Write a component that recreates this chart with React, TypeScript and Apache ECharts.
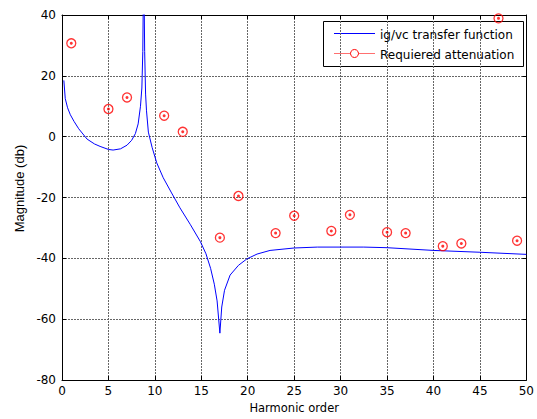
import React, { useEffect, useRef } from "react";
import * as echarts from "echarts";

// Transfer function ig/vc (harmonic order, magnitude in dB)
const tfOrder = [
  0.2, 0.35, 0.6, 0.9, 1.3, 1.8, 2.7, 3.5, 4.1, 5.0, 5.5, 6.3, 7.0, 7.5, 7.9, 8.2,
  8.45, 8.6, 8.7, 8.8, 8.9, 9.0, 9.1, 9.3, 9.7, 10.2, 10.9, 11.8, 12.7, 13.8, 14.9,
  15.5, 16.0, 16.4, 16.7, 17.0, 17.2, 17.5, 18.1, 19.0, 19.9, 21.0, 22.4, 25, 27.5,
  30, 32.5, 35, 40, 45, 50,
];
const tfMagnitude = [
  18.5, 12.5, 9.5, 7.2, 5.0, 2.6, -0.8, -2.4, -3.2, -4.2, -4.4, -4.0, -2.8, -1.2, 1.0, 4.2,
  10, 16, 28, 60, 28, 14, 8.5, 1.5, -3.5, -8.6, -13.5, -18.5, -23.4, -28.8, -34.5,
  -38.5, -43.3, -48.5, -54, -64.6, -56, -50.5, -45.5, -42.3, -40.2, -38.6, -37.4, -36.6, -36.3,
  -36.3, -36.3, -36.5, -37.4, -38.0, -38.7,
];

// Required attenuation at harmonic orders
const harmonics = [1, 5, 7, 11, 13, 17, 19, 23, 25, 29, 31, 35, 37, 41, 43, 47, 49];
const attenuation = [
  30.7, 9.1, 12.9, 6.9, 1.6, -33.2, -19.5, -31.7, -26, -31, -25.7, -31.4, -31.7, -36, -35.1, 38.9, -34.2,
];

const xTicks = { min: 0, max: 50, interval: 5 };
const yTicks = { min: -80, max: 40, interval: 20 };

const legendNames = ["ig/vc transfer function", "Requiered attenuation"];

const FONT = '"DejaVu Sans", sans-serif';

export default function App() {
  const ref = useRef<HTMLDivElement>(null);
  useEffect(() => {
    if (!ref.current) return;
    const chart = echarts.init(ref.current, undefined, { renderer: "svg" });
    const splitLine = { show: true, lineStyle: { color: "#666", type: [2, 1] as any, width: 1 } };
    const axisLine = { show: true, onZero: false, lineStyle: { color: "#000", width: 1 } };
    const axisTick = { show: true, inside: true, length: 4, lineStyle: { color: "#000" } };
    const attData = harmonics.map((x, i) => [x, attenuation[i]]);
    chart.setOption({
      animation: false,
      backgroundColor: "#fff",
      grid: { left: 62, right: 10, top: 15, bottom: 38, containLabel: false },
      xAxis: [
        {
          type: "value",
          position: "bottom",
          ...xTicks,
          axisLine,
          axisTick,
          splitLine,
          axisLabel: { color: "#000", fontFamily: FONT, fontSize: 12, margin: 5 },
          name: "Harmonic order",
          nameLocation: "middle",
          nameGap: 22,
          nameTextStyle: { color: "#000", fontFamily: FONT, fontSize: 11.5 },
        },
        {
          type: "value",
          position: "top",
          ...xTicks,
          axisLine,
          axisTick,
          splitLine: { show: false },
          axisLabel: { show: false },
        },
      ],
      yAxis: [
        {
          type: "value",
          position: "left",
          ...yTicks,
          axisLine,
          axisTick,
          splitLine,
          axisLabel: { color: "#000", fontFamily: FONT, fontSize: 12, margin: 6 },
          name: "Magnitude (db)",
          nameLocation: "middle",
          nameGap: 35,
          nameTextStyle: {
            color: "#000",
            fontFamily: '"Liberation Sans", Arial, sans-serif',
            fontSize: 13,
            padding: [0, 0, 0, 18],
          },
        },
        {
          type: "value",
          position: "right",
          ...yTicks,
          axisLine,
          axisTick,
          splitLine: { show: false },
          axisLabel: { show: false },
        },
      ],
      series: [
        {
          name: legendNames[0],
          type: "line",
          data: tfOrder.map((x, i) => [x, tfMagnitude[i]]),
          showSymbol: false,
          symbol: "none",
          lineStyle: { color: "#0000ff", width: 1 },
          clip: true,
          z: 2,
        },
        {
          name: legendNames[1],
          type: "scatter",
          data: attData,
          symbol: "circle",
          symbolSize: 9,
          itemStyle: { color: "rgba(0,0,0,0)", borderColor: "#ff0000", borderWidth: 1.3 },
          clip: false,
          z: 3,
        },
        {
          name: "attenuation-dot",
          type: "scatter",
          data: attData,
          symbol: "circle",
          symbolSize: 3,
          itemStyle: { color: "#ff0000" },
          silent: true,
          clip: false,
          z: 3,
        },
      ],
      graphic: [
        {
          type: "group",
          z: 100,
          children: [
            {
              type: "rect",
              shape: { x: 323.5, y: 21.5, width: 200, height: 45 },
              style: { fill: "#fff", stroke: "#000", lineWidth: 1 },
            },
            {
              type: "line",
              shape: { x1: 334, y1: 33.5, x2: 375, y2: 33.5 },
              style: { stroke: "#0000ff", lineWidth: 1 },
            },
            {
              type: "text",
              style: { text: legendNames[0], x: 380, y: 35, verticalAlign: "middle", font: '12px "DejaVu Sans"', fill: "#000" },
            },
            {
              type: "line",
              shape: { x1: 334, y1: 53.5, x2: 375, y2: 53.5 },
              style: { stroke: "#ff7070", lineWidth: 1.2 },
            },
            {
              type: "circle",
              shape: { cx: 354.5, cy: 53.5, r: 4 },
              style: { fill: "#fff", stroke: "#ff0000", lineWidth: 1 },
            },
            {
              type: "text",
              style: { text: legendNames[1], x: 380, y: 55, verticalAlign: "middle", font: '12px "DejaVu Sans"', fill: "#000" },
            },
          ],
        },
      ],
    });
    return () => chart.dispose();
  }, []);
  return <div ref={ref} style={{ position: "absolute", left: 0, top: 0, width: 537, height: 419 }} />;
}
